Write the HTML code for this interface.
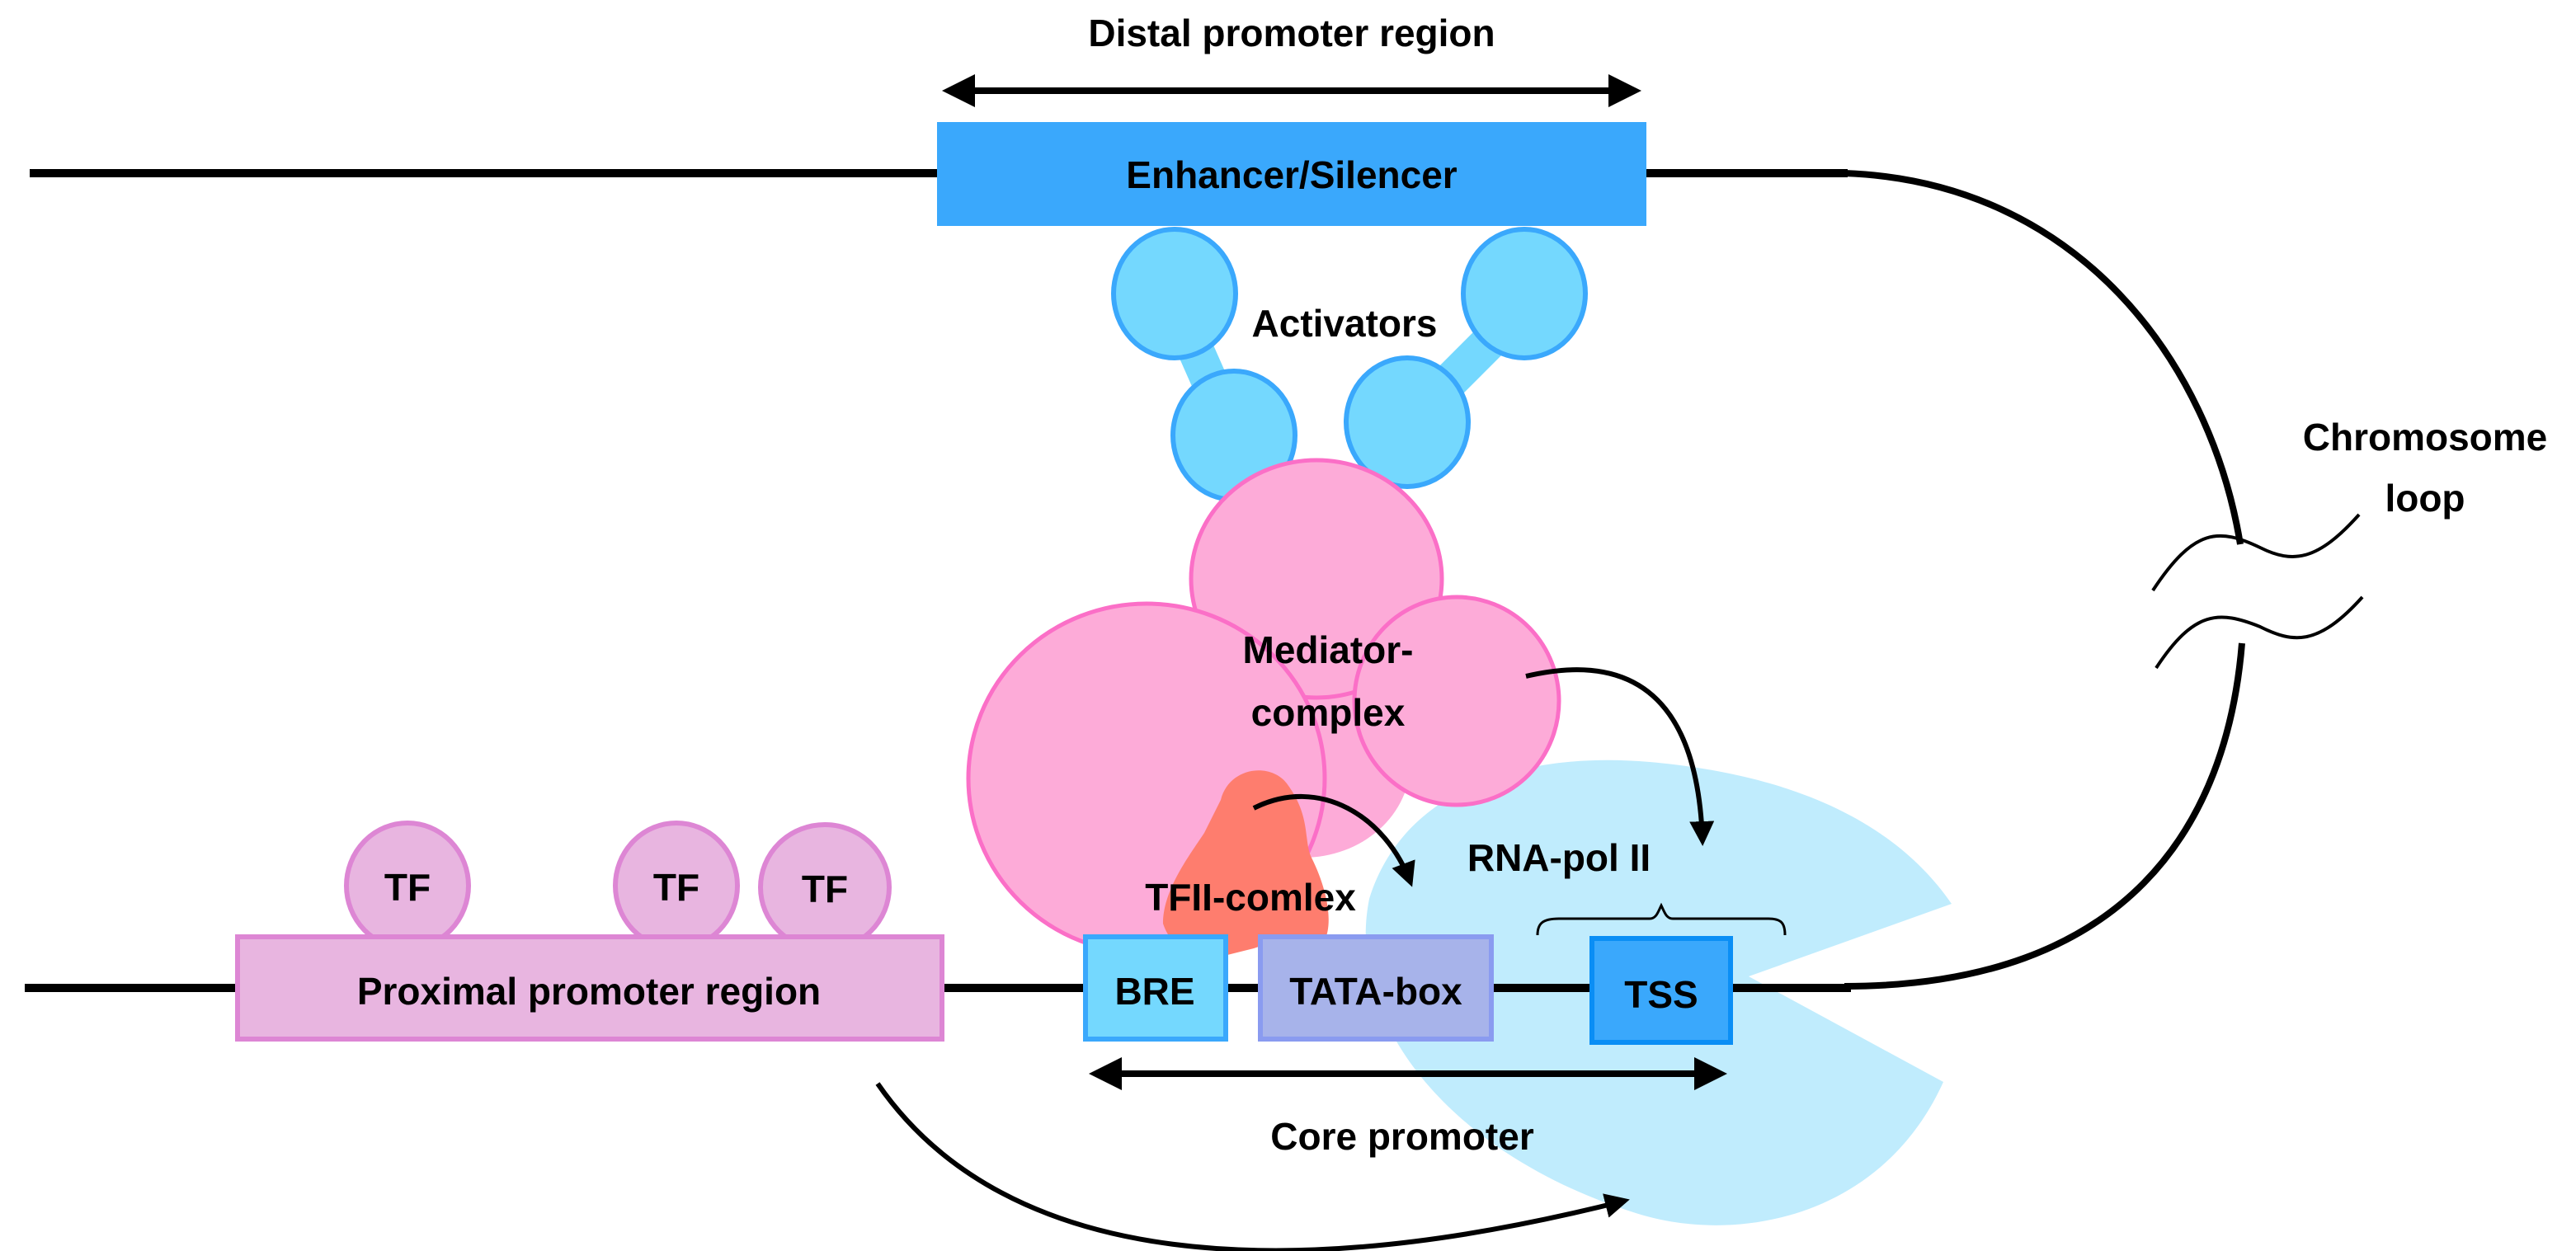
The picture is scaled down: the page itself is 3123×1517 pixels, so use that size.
<!DOCTYPE html>
<html><head><meta charset="utf-8"><style>
html,body{margin:0;padding:0;background:#fff;}
svg{display:block;}
text{font-family:"Liberation Sans",sans-serif;font-weight:bold;fill:#000;text-anchor:middle;}
</style></head><body>
<svg width="3123" height="1517" viewBox="0 0 1561.5 758.5" preserveAspectRatio="none" xmlns="http://www.w3.org/2000/svg">
<defs>
<marker id="ah" viewBox="0 0 10 10" refX="8" refY="5" markerWidth="5" markerHeight="5" orient="auto-start-reverse"><path d="M0,0 L10,5 L0,10 z" fill="#000"/></marker>
</defs>
<!-- RNA pol II -->
<path d="M1183,548 L1060,592 L1178,656 C1140,740 1050,755 990,735 C880,700 815,620 830,545 C850,480 920,455 1000,462 C1090,470 1150,500 1183,548 Z" fill="#c0ecfd"/>
<!-- top line -->
<line x1="18" y1="105" x2="1120" y2="105" stroke="#000" stroke-width="5"/>
<!-- loop -->
<path d="M1118,105 C1260,110 1340,220 1358,330" fill="none" stroke="#000" stroke-width="4"/>
<path d="M1359,390 C1350,500 1290,598 1118,598" fill="none" stroke="#000" stroke-width="4"/>
<path d="M1305,358 C1330,320 1345,320 1370,332 C1390,342 1405,340 1430,312" fill="none" stroke="#000" stroke-width="2"/>
<path d="M1307,405 C1330,370 1345,370 1370,380 C1390,390 1405,392 1432,362" fill="none" stroke="#000" stroke-width="2"/>
<text x="1470" y="273" font-size="23">Chromosome</text>
<text x="1470" y="310" font-size="23">loop</text>
<!-- bottom line -->
<line x1="15" y1="599" x2="1122" y2="599" stroke="#000" stroke-width="5"/>
<!-- enhancer -->
<rect x="568" y="74" width="430" height="63" fill="#3aa8fc"/>
<text x="783" y="114" font-size="23">Enhancer/Silencer</text>
<line x1="575" y1="55" x2="991" y2="55" stroke="#000" stroke-width="4" marker-start="url(#ah)" marker-end="url(#ah)"/>
<text x="783" y="28" font-size="23">Distal promoter region</text>
<!-- activators -->
<line x1="715" y1="190" x2="745" y2="258" stroke="#74d8fe" stroke-width="22"/>
<line x1="920" y1="190" x2="855" y2="255" stroke="#74d8fe" stroke-width="22"/>
<ellipse cx="712" cy="178" rx="37" ry="39" fill="#74d8fe" stroke="#3aa8fc" stroke-width="3"/>
<ellipse cx="748" cy="264" rx="37" ry="39" fill="#74d8fe" stroke="#3aa8fc" stroke-width="3"/>
<ellipse cx="924" cy="178" rx="37" ry="39" fill="#74d8fe" stroke="#3aa8fc" stroke-width="3"/>
<ellipse cx="853" cy="256" rx="37" ry="39" fill="#74d8fe" stroke="#3aa8fc" stroke-width="3"/>
<text x="815" y="204" font-size="23">Activators</text>
<!-- mediator -->
<ellipse cx="790" cy="462" rx="65" ry="58" fill="#fdabd8"/>
<ellipse cx="798" cy="351" rx="76" ry="72" fill="#fdabd8" stroke="#fb6fc7" stroke-width="2.5"/>
<ellipse cx="883" cy="425" rx="62" ry="63" fill="#fdabd8" stroke="#fb6fc7" stroke-width="2.5"/>
<ellipse cx="695" cy="472" rx="108" ry="106" fill="#fdabd8" stroke="#fb6fc7" stroke-width="2.5"/>
<text x="805" y="402" font-size="23">Mediator-</text>
<text x="805" y="440" font-size="23">complex</text>
<!-- TFII -->
<path d="M740,485 C745,465 770,462 780,475 C795,495 790,510 795,520 C805,540 808,560 803,570 L775,570 L760,575 L740,580 C725,585 710,575 705,560 C705,540 720,520 730,505 Z" fill="#fe7d6e"/>
<!-- arrows -->
<path d="M760,490 C800,470 840,495 855,535" fill="none" stroke="#000" stroke-width="3" marker-end="url(#ah)"/>
<path d="M925,410 C1010,390 1030,450 1032,510" fill="none" stroke="#000" stroke-width="3" marker-end="url(#ah)"/>
<text x="945" y="528" font-size="23">RNA-pol II</text>
<text x="758" y="552" font-size="23">TFII-comlex</text>
<!-- brace -->
<path d="M932,567 C932,560 935,557 945,557 L1000,557 C1004,557 1005,553 1007,549 C1009,553 1010,557 1014,557 L1072,557 C1080,557 1082,560 1082,567" fill="none" stroke="#000" stroke-width="1.5"/>
<!-- TFs -->
<ellipse cx="247" cy="537" rx="37" ry="38" fill="#e8b5e0" stroke="#dd86d4" stroke-width="3"/>
<ellipse cx="410" cy="537" rx="37" ry="38" fill="#e8b5e0" stroke="#dd86d4" stroke-width="3"/>
<ellipse cx="500" cy="538" rx="39" ry="38" fill="#e8b5e0" stroke="#dd86d4" stroke-width="3"/>
<text x="247" y="546" font-size="23">TF</text>
<text x="410" y="546" font-size="23">TF</text>
<text x="500" y="547" font-size="23">TF</text>
<!-- boxes -->
<rect x="144" y="568" width="427" height="62" fill="#e8b5e0" stroke="#dd86d4" stroke-width="3"/>
<text x="357" y="609" font-size="23">Proximal promoter region</text>
<rect x="658" y="568" width="85" height="62" fill="#74d8fe" stroke="#3aa8fc" stroke-width="3"/>
<text x="700" y="609" font-size="23">BRE</text>
<rect x="764" y="568" width="140" height="62" fill="#a7b3ea" stroke="#8a9bf0" stroke-width="3"/>
<text x="834" y="609" font-size="23">TATA-box</text>
<rect x="965" y="569" width="84" height="63" fill="#3aa8fc" stroke="#0a8ef5" stroke-width="3"/>
<text x="1007" y="611" font-size="23">TSS</text>
<!-- core -->
<line x1="664" y1="651" x2="1043" y2="651" stroke="#000" stroke-width="4" marker-start="url(#ah)" marker-end="url(#ah)"/>
<text x="850" y="697" font-size="23">Core promoter</text>
<path d="M532,657 C610,770 780,780 985,728" fill="none" stroke="#000" stroke-width="3" marker-end="url(#ah)"/>
</svg>
</body></html>
